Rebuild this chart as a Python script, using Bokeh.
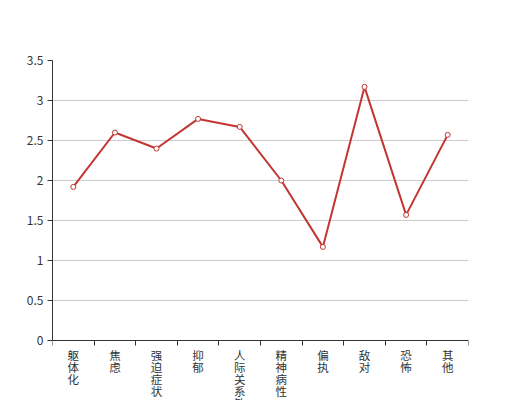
from bokeh.plotting import figure
from bokeh.models import ColumnDataSource, Range1d, FixedTicker
from bokeh.core.properties import value
from bokeh.embed import file_html
from bokeh.resources import INLINE

categories = ["躯体化", "焦虑", "强迫症状", "抑郁", "人际关系敏感",
              "精神病性", "偏执", "敌对", "恐怖", "其他"]
values = [1.92, 2.60, 2.40, 2.77, 2.67, 2.00, 1.17, 3.17, 1.57, 2.57]
y_ticks = [0, 0.5, 1, 1.5, 2, 2.5, 3, 3.5]

FONT = "Noto Sans CJK SC"
RED = "#c23531"
AX = "#333333"

n = len(categories)
xpos = [i + 0.5 for i in range(n)]   # band centres
bounds = list(range(n + 1))          # band boundaries (tick marks)

# frame runs to the bottom edge so the category labels sit inside it
p = figure(x_range=Range1d(0, n), y_range=Range1d(-0.75, 3.5),
           width=520, height=400, output_backend="svg",
           toolbar_location=None, x_axis_location="above",
           min_border_left=52, min_border_right=52,
           min_border_top=60, min_border_bottom=0)
p.outline_line_color = None
p.background_fill_color = "white"
p.border_fill_color = "white"

xa = p.xaxis[0]
xa.fixed_location = 0
xa.ticker = FixedTicker(ticks=bounds)
xa.major_label_overrides = {b: "" for b in bounds}
xa.major_label_standoff = 0
xa.minor_tick_line_color = None
xa.axis_line_color = AX
xa.major_tick_line_color = AX
xa.major_tick_in = 5
xa.major_tick_out = 0

ya = p.yaxis[0]
ya.bounds = (0, 3.5)
ya.ticker = FixedTicker(ticks=y_ticks)
ya.major_label_overrides = {t: f"{t:g}" for t in y_ticks}
ya.minor_tick_line_color = None
ya.axis_line_color = AX
ya.major_tick_line_color = AX
ya.major_tick_in = 0
ya.major_tick_out = 5
ya.major_label_standoff = 4
ya.major_label_text_font = FONT
ya.major_label_text_font_size = "12px"
ya.major_label_text_color = AX

p.xgrid.visible = False
p.ygrid.grid_line_color = "#cccccc"
p.ygrid.ticker = FixedTicker(ticks=y_ticks)

src = ColumnDataSource(dict(x=xpos, val=values,
                            lab=["\n".join(c) for c in categories],
                            zero=[0] * n))
p.line("x", "val", source=src, line_color=RED, line_width=2)
p.scatter("x", "val", source=src, size=5, fill_color="white",
          line_color=RED, line_width=1)
p.text("x", "zero", text="lab", source=src, y_offset=6,
       text_align="center", text_baseline="top",
       text_font=value(FONT), text_font_size="11.5px", text_color=AX,
       text_line_height=0.76)

open("out.html", "w").write(file_html(p, INLINE))
